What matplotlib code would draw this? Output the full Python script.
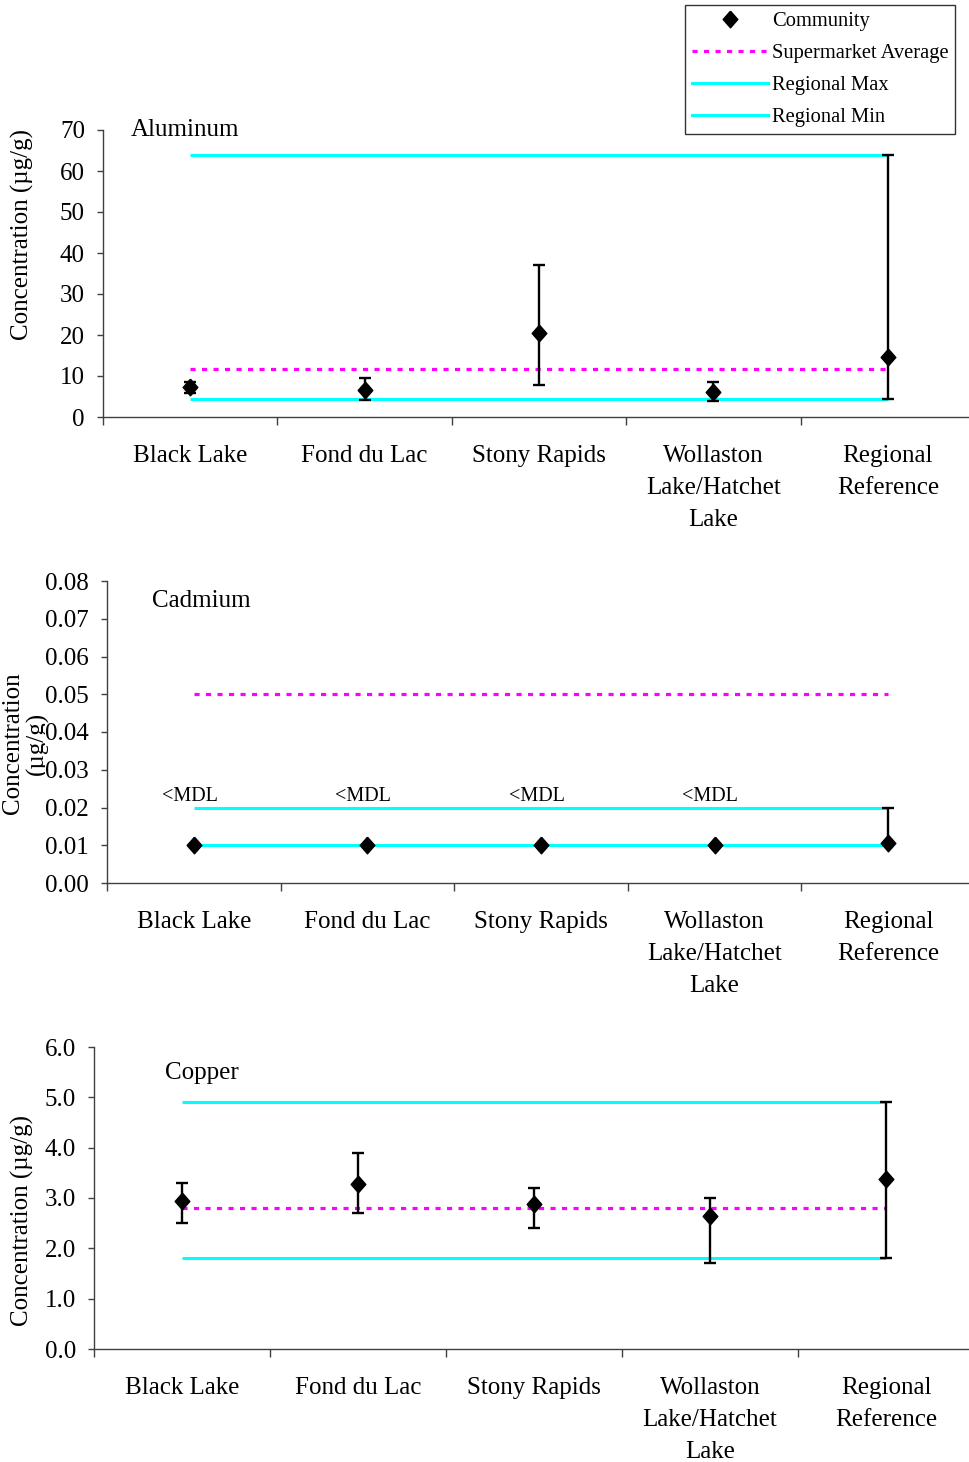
import matplotlib
matplotlib.use("Agg")
import matplotlib.pyplot as plt
from matplotlib.lines import Line2D
from matplotlib.ticker import FixedLocator, FixedFormatter, NullFormatter, FormatStrFormatter

plt.rcParams["font.family"] = ["Liberation Serif", "DejaVu Serif"]

# ---- data -------------------------------------------------------------
communities = ["Black Lake", "Fond du Lac", "Stony Rapids",
               "Wollaston\nLake/Hatchet\nLake", "Regional\nReference"]

al_mean = [7.3, 6.5, 20.5, 6.0, 14.6]
al_low = [5.9, 4.1, 7.9, 3.8, 4.5]
al_high = [8.6, 9.6, 37.1, 8.6, 63.9]
al_market = 11.6
al_reg_max = 64.0
al_reg_min = 4.5

cd_mean = [0.01, 0.01, 0.01, 0.01, 0.0105]
cd_low = [0.01, 0.01, 0.01, 0.01, 0.01]
cd_high = [0.01, 0.01, 0.01, 0.01, 0.02]
cd_market = 0.05
cd_reg_max = 0.02
cd_reg_min = 0.01
cd_notes = ["<MDL", "<MDL", "<MDL", "<MDL", ""]

cu_mean = [2.95, 3.28, 2.89, 2.64, 3.38]
cu_low = [2.5, 2.7, 2.4, 1.7, 1.8]
cu_high = [3.3, 3.9, 3.2, 3.0, 4.9]
cu_market = 2.8
cu_reg_max = 4.9
cu_reg_min = 1.8

legend_labels = ["Community", "Supermarket Average", "Regional Max", "Regional Min"]

# ---- styling ------------------------------------------------------------
CYAN = "#00FFFF"
MAGENTA = "#FF00FF"
SPINE = "#404040"
DOTS = (0, (1.6, 2.0))
# slightly tall diamond marker
DIAMOND = [(0, 1), (0.88, 0), (0, -1), (-0.88, 0), (0, 1)]
MS = 12
W, H = 969, 1462

fig = plt.figure(figsize=(W / 100, H / 100), dpi=100)


def axes_px(left, right, top, bottom):
    return fig.add_axes([left / W, 1 - bottom / H, (right - left) / W, (bottom - top) / H])


def panel(ax, mean, low, high, market, rmax, rmin, ylim, yticks, fmt):
    xs = list(range(len(mean)))
    ax.plot([xs[0], xs[-1]], [rmax, rmax], color=CYAN, lw=2.2,
            solid_capstyle="butt", zorder=2)
    ax.plot([xs[0], xs[-1]], [rmin, rmin], color=CYAN, lw=2.2,
            solid_capstyle="butt", zorder=2)
    ax.plot([xs[0], xs[-1]], [market, market], color=MAGENTA, lw=2.3,
            ls=DOTS, zorder=2)
    for x, m, lo, hi in zip(xs, mean, low, high):
        if hi > lo:
            ax.errorbar([x], [m], yerr=[[m - lo], [hi - m]], fmt="none",
                        ecolor="black", elinewidth=1.7, capsize=4.3,
                        capthick=1.7, zorder=3)
    ax.plot(xs, mean, ls="none", marker=DIAMOND, ms=MS, color="black", zorder=4)

    ax.set_xlim(-0.5, len(mean) - 0.5)
    ax.set_ylim(*ylim)
    for side in ("top", "right"):
        ax.spines[side].set_visible(False)
    for side in ("left", "bottom"):
        ax.spines[side].set_color(SPINE)
        ax.spines[side].set_linewidth(1.0)

    ax.xaxis.set_major_locator(FixedLocator([i - 0.5 for i in range(len(mean) + 1)]))
    ax.xaxis.set_major_formatter(NullFormatter())
    ax.xaxis.set_minor_locator(FixedLocator(xs))
    ax.xaxis.set_minor_formatter(FixedFormatter(communities))
    ax.tick_params(axis="x", which="major", direction="out", length=6,
                   width=1, color=SPINE)
    ax.tick_params(axis="x", which="minor", length=0, pad=20.5, labelsize=18)
    for lbl in ax.get_xticklabels(minor=True):
        lbl.set_linespacing(1.57)

    ax.yaxis.set_major_locator(FixedLocator(yticks))
    ax.yaxis.set_major_formatter(FormatStrFormatter(fmt))
    ax.tick_params(axis="y", direction="out", length=4, width=1, color=SPINE,
                   pad=9, labelsize=18)


# Aluminum
ax1 = axes_px(103, 975, 130, 417)
panel(ax1, al_mean, al_low, al_high, al_market, al_reg_max, al_reg_min,
      (0, 70), list(range(0, 71, 10)), "%d")
ax1.text(0.032, 1.0, "Aluminum", transform=ax1.transAxes, fontsize=18,
         ha="left", va="center")
fig.text(22 / W, 1 - 235 / H, "Concentration (µg/g)", rotation=90,
         ha="center", va="center", fontsize=18)

# Cadmium
ax2 = axes_px(107, 975, 581, 883)
panel(ax2, cd_mean, cd_low, cd_high, cd_market, cd_reg_max, cd_reg_min,
      (0, 0.08), [i / 100 for i in range(9)], "%.2f")
ax2.text(0.052, 0.933, "Cadmium", transform=ax2.transAxes, fontsize=18,
         ha="left", va="center")
for x, note in enumerate(cd_notes):
    if note:
        ax2.annotate(note, (x, 0.0225), xytext=(-3, 1), textcoords="offset points",
                     ha="center", va="center", fontsize=14.5)
# two-line axis title tucked behind the tick labels
ax2.text(2 / W, 1 - 743 / H, "Concentration\n(µg/g)", transform=fig.transFigure,
         rotation=90, ha="left", va="center", multialignment="center",
         fontsize=18, linespacing=1.1, clip_on=False, zorder=1)
for tick in ax2.yaxis.get_major_ticks():
    tick.label1.set_bbox(dict(facecolor="white", edgecolor="none", pad=0))

# Copper
ax3 = axes_px(94, 974, 1047, 1349)
panel(ax3, cu_mean, cu_low, cu_high, cu_market, cu_reg_max, cu_reg_min,
      (0, 6), list(range(0, 7)), "%.1f")
ax3.text(0.081, 0.914, "Copper", transform=ax3.transAxes, fontsize=18,
         ha="left", va="center")
fig.text(22 / W, 1 - 1220 / H, "Concentration (µg/g)", rotation=90,
         ha="center", va="center", fontsize=18)

# Shared legend
handles = [
    Line2D([], [], ls="none", marker=DIAMOND, ms=MS, color="black"),
    Line2D([], [], color=MAGENTA, lw=2.3, ls=DOTS),
    Line2D([], [], color=CYAN, lw=2.2),
    Line2D([], [], color=CYAN, lw=2.2),
]
leg = fig.legend(handles, legend_labels, loc="upper left",
                 bbox_to_anchor=(685 / W, 1 - 5 / H), frameon=True,
                 fancybox=False, edgecolor="black", fontsize=14.8,
                 handlelength=3.7, handletextpad=0.2, labelspacing=0.62,
                 borderpad=0.32, borderaxespad=0)
leg.get_frame().set_linewidth(1.0)

fig.savefig("out.png", dpi=100)
